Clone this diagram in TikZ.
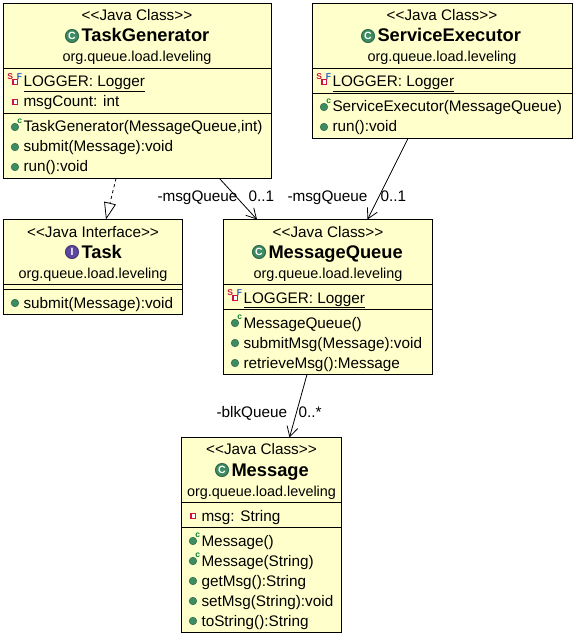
\documentclass[tikz,border=0pt]{standalone}
\usepackage{fontspec}
\setmainfont{Liberation Sans}
\usetikzlibrary{arrows.meta, calc}
\definecolor{umlyellow}{RGB}{255, 255, 204}
\definecolor{umlgreen}{RGB}{62, 140, 98}
\definecolor{umlpurple}{RGB}{92, 72, 160}
\definecolor{umlred}{RGB}{204, 20, 60}
\definecolor{umlblue}{RGB}{40, 90, 190}
\definecolor{umlctor}{RGB}{10, 130, 50}

\begin{document}
\begin{tikzpicture}[
  x=1pt, y=-1pt,
  line width=1pt,
  part/.style 2 args={rectangle, draw=black, fill=umlyellow, anchor=north west, inner sep=0pt, outer sep=0pt, minimum width=#1pt, minimum height=#2pt},
  stereo/.style={anchor=base, inner sep=0pt, font=\fontsize{15.3}{16}\selectfont},
  pkg/.style={anchor=base, inner sep=0pt, font=\fontsize{14.4}{16}\selectfont},
  title/.style={anchor=base west, inner sep=0pt, text height=13pt, text depth=1pt, font=\fontsize{18.3}{20}\selectfont\bfseries},
  badge/.style={circle, inner sep=0pt, minimum size=13pt, fill=#1, draw=#1!75!black, text=white, font=\fontsize{10.5}{10}\selectfont\bfseries},
  classname/.style={title, label={[badge=umlgreen, label distance=2pt]180:C}},
  ifacename/.style={title, label={[badge=umlpurple, label distance=2pt]180:I}},
  row/.style={anchor=base west, inner sep=0pt, text height=12pt, text depth=2pt, font=\fontsize{15.3}{16}\selectfont},
  pubdot/.style={circle, inner sep=0pt, minimum size=7.5pt, fill=umlgreen, draw=umlgreen!80!black, line width=0.6pt},
  privsq/.style={rectangle, inner sep=0pt, minimum size=4.5pt, fill=white, draw=umlred, line width=1.4pt},
  tinymark/.style={inner sep=0pt, text=#1, font=\fontsize{8.5}{8}\selectfont\bfseries},
  pubrow/.style={row, label={[pubdot, label distance=4pt]180:{}}},
  ctorrow/.style={pubrow, label={[tinymark=umlctor, xshift=-0.5pt, yshift=6pt]180:c}},
  privrow/.style={row, label={[privsq, label distance=5pt]180:{}}},
  staticrow/.style={privrow, label={[tinymark=umlred, xshift=-9.5pt, yshift=5pt]180:S}, label={[tinymark=umlblue, xshift=-0.5pt, yshift=5pt]180:F}},
  role/.style={anchor=base west, inner sep=0pt, font=\fontsize{15.3}{16}\selectfont},
  assoc/.style={line width=0.8pt, -{Straight Barb[length=10pt, width=11pt]}},
  realize/.style={line width=0.8pt, dashed, -{Triangle[open, length=17pt, width=12pt]}}
]
\useasboundingbox (0,0) rectangle (576,636);

% TaskGenerator
\node[part={268}{65}] (tgHead) at (3.5,3.5) {};
\node[part={268}{45}] (tgFields) at (3.5,68.5) {};
\node[part={268}{65}] (tgOps) at (3.5,113.5) {};
\node[stereo] (tgType) at (137,21) {{<}{<}Java Class{>}{>}};
\node[classname] (tgName) at (81,42) {TaskGenerator};
\node[pkg] (tgPkg) at (137,62) {org.queue.load.leveling};
\node[staticrow] (tgLogger) at (23,87) {\underline{LOGGER: Logger}};
\node[privrow] (tgCount) at (23,107) {msgCount: int};
\node[ctorrow] (tgCtor) at (23,132) {TaskGenerator(MessageQueue,int)};
\node[pubrow] (tgSubmit) at (23,152) {submit(Message):void};
\node[pubrow] (tgRun) at (23,172) {run():void};

% ServiceExecutor
\node[part={260}{65}] (seHead) at (312.5,3.5) {};
\node[part={260}{25}] (seFields) at (312.5,68.5) {};
\node[part={260}{45}] (seOps) at (312.5,93.5) {};
\node[stereo] (seType) at (442,21) {{<}{<}Java Class{>}{>}};
\node[classname] (seName) at (377,42) {ServiceExecutor};
\node[pkg] (sePkg) at (442,62) {org.queue.load.leveling};
\node[staticrow] (seLogger) at (332,87) {\underline{LOGGER: Logger}};
\node[ctorrow] (seCtor) at (332,112) {ServiceExecutor(MessageQueue)};
\node[pubrow] (seRun) at (332,132) {run():void};

% Task
\node[part={179}{65}] (taskHead) at (3.5,219.5) {};
\node[part={179}{5}] (taskFields) at (3.5,284.5) {};
\node[part={179}{25}] (taskOps) at (3.5,289.5) {};
\node[stereo] (taskType) at (93,237) {{<}{<}Java Interface{>}{>}};
\node[ifacename] (taskName) at (81,258) {Task};
\node[pkg] (taskPkg) at (93,278) {org.queue.load.leveling};
\node[pubrow] (taskSubmit) at (23,308) {submit(Message):void};

% MessageQueue
\node[part={209}{65}] (mqHead) at (223.5,219.5) {};
\node[part={209}{25}] (mqFields) at (223.5,284.5) {};
\node[part={209}{65}] (mqOps) at (223.5,309.5) {};
\node[stereo] (mqType) at (328,237) {{<}{<}Java Class{>}{>}};
\node[classname] (mqName) at (268,258) {MessageQueue};
\node[pkg] (mqPkg) at (328,278) {org.queue.load.leveling};
\node[staticrow] (mqLogger) at (243,303) {\underline{LOGGER: Logger}};
\node[ctorrow] (mqCtor) at (243,328) {MessageQueue()};
\node[pubrow] (mqSubmit) at (243,348) {submitMsg(Message):void};
\node[pubrow] (mqRetrieve) at (243,368) {retrieveMsg():Message};

% Message
\node[part={160}{65}] (msgHead) at (181.5,437.5) {};
\node[part={160}{25}] (msgFields) at (181.5,502.5) {};
\node[part={160}{105}] (msgOps) at (181.5,527.5) {};
\node[stereo] (msgType) at (261.5,454) {{<}{<}Java Class{>}{>}};
\node[classname] (msgName) at (231,476) {Message};
\node[pkg] (msgPkg) at (261.5,496) {org.queue.load.leveling};
\node[privrow] (msgText) at (201,521) {msg: String};
\node[ctorrow] (msgCtorA) at (201,546) {Message()};
\node[ctorrow] (msgCtorB) at (201,566) {Message(String)};
\node[pubrow] (msgGet) at (201,586) {getMsg():String};
\node[pubrow] (msgSet) at (201,606) {setMsg(String):void};
\node[pubrow] (msgStr) at (201,626) {toString():String};

% Arrows
\draw[realize] ([xshift=-21.5pt]tgOps.south) -- ([xshift=13pt]taskHead.north);
\draw[assoc] ([xshift=82pt]tgOps.south) -- ([xshift=-71pt]mqHead.north);
\draw[assoc] ([xshift=-34.5pt]seOps.south) -- ([xshift=39.5pt]mqHead.north);
\draw[assoc] ([xshift=-21pt]mqOps.south) -- ([xshift=28pt]msgHead.north);

% Role labels
\node[role] (tgRole) at (157,201) {-msgQueue};
\node[role] (tgMult) at (248,201) {0..1};
\node[role] (seRole) at (287,201) {-msgQueue};
\node[role] (seMult) at (380,201) {0..1};
\node[role] (mqRole) at (216,417) {-blkQueue};
\node[role] (mqMult) at (298,417) {0..*};

\end{tikzpicture}
\end{document}
